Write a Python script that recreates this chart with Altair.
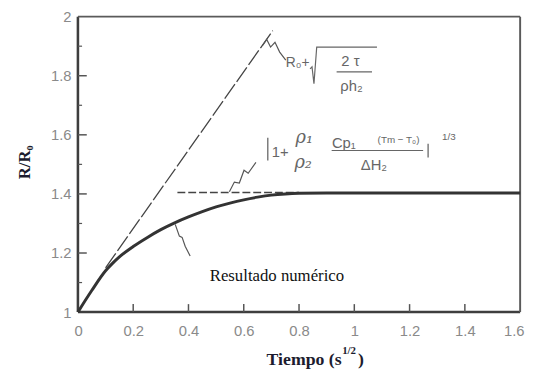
import altair as alt
import pandas as pd

# ---- data ----
curve_x = [0, 0.05, 0.1, 0.125, 0.15, 0.2, 0.25, 0.3, 0.35, 0.4, 0.45, 0.5, 0.55, 0.6,
           0.65, 0.7, 0.75, 0.8, 0.9, 1.0, 1.2, 1.4, 1.6]
curve_y = [1.0, 1.073, 1.14, 1.165, 1.187, 1.222, 1.252, 1.279, 1.302, 1.322, 1.34, 1.356,
           1.369, 1.38, 1.389, 1.396, 1.400, 1.402, 1.403, 1.403, 1.403, 1.403, 1.403]

slope_x = [0.1, 0.705]
slope_y = [1.15, 1.953]

asym_x = [0.36, 0.80]
asym_y = [1.405, 1.405]

x_ticks = [0, 0.2, 0.4, 0.6, 0.8, 1.0, 1.2, 1.4, 1.6]
y_ticks = [1, 1.2, 1.4, 1.6, 1.8, 2]
y_minor = [1.1, 1.3, 1.5, 1.7, 1.9]

# plot frame edges as thin filled bands: x, x2, y, y2
frame_x1 = [-0.0046, 0.0, 0.0, 1.5965]
frame_x2 = [0.0046, 1.6, 1.6, 1.6035]
frame_y1 = [1.0, 0.9957, 1.9967, 1.0]
frame_y2 = [2.0, 1.0043, 2.0033, 2.0]
frame_col = ["a", "a", "b", "b"]

# annotation squiggles (leader marks)
arrow1_x = [0.669, 0.683, 0.697, 0.713, 0.730, 0.752]
arrow1_y = [1.903, 1.923, 1.897, 1.913, 1.880, 1.853]
arrow2_x = [0.548, 0.566, 0.584, 0.601, 0.616, 0.644]
arrow2_y = [1.407, 1.440, 1.437, 1.480, 1.470, 1.507]
arrow3_x = [0.352, 0.367, 0.377, 0.388, 0.406]
arrow3_y = [1.297, 1.257, 1.253, 1.223, 1.190]

# formula strokes
sqrt_x = [0.840, 0.847, 0.854, 0.864, 1.082]
sqrt_y = [1.823, 1.830, 1.773, 1.897, 1.897]

xscale = alt.Scale(domain=[0, 1.6], nice=False, zero=False)
yscale = alt.Scale(domain=[1, 2], nice=False, zero=False)

xaxis = alt.Axis(values=x_ticks, format="~g", ticks=False, grid=False, domain=False,
                 labelFont="Liberation Sans", labelFontSize=15, labelColor="#8a8a8a",
                 labelPadding=12, labelFlush=True, labelFlushOffset=4,
                 labelOverlap=False, title="")
yaxis = alt.Axis(values=y_ticks, format="~g", ticks=False, grid=False, domain=False,
                 labelFont="Liberation Sans", labelFontSize=15, labelColor="#8a8a8a",
                 labelPadding=7, labelOverlap=False, title="")

X = alt.X("x:Q", scale=xscale, axis=xaxis)
Y = alt.Y("y:Q", scale=yscale, axis=yaxis)


def line_layer(xs, ys, **kw):
    df = pd.DataFrame({"x": xs, "y": ys, "o": list(range(len(xs)))})
    return alt.Chart(df).mark_line(**kw).encode(x=X, y=Y, order="o:Q")


def text_layer(items, **kw):
    df = pd.DataFrame(items, columns=["x", "y", "t"])
    return alt.Chart(df).mark_text(**kw).encode(x=X, y=Y, text="t:N")


def seg_layer(x1, y1, x2, y2, **kw):
    df = pd.DataFrame({"x": [x1], "y": [y1], "x2": [x2], "y2": [y2]})
    return alt.Chart(df).mark_rule(**kw).encode(x=X, y=Y, x2="x2:Q", y2="y2:Q")


frame_df = pd.DataFrame({"x": frame_x1, "x2": frame_x2, "y": frame_y1, "y2": frame_y2,
                         "c": frame_col})
frame = alt.Chart(frame_df).mark_rect(strokeWidth=0).encode(
    x=X, x2="x2:Q", y=Y, y2="y2:Q",
    color=alt.Color("c:N", scale=alt.Scale(domain=["a", "b"], range=["#3e3e3e", "#5a5a5a"]),
                    legend=None))

# inward ticks
xt_df = pd.DataFrame({"x": x_ticks[1:-1], "y": [1.0] * 7, "y2": [1.027] * 7})
x_tick_layer = alt.Chart(xt_df).mark_rule(color="#555", strokeWidth=1.5).encode(
    x=X, y=Y, y2="y2:Q")
yt_df = pd.DataFrame({"x": [0.0] * 4, "x2": [0.032] * 4, "y": y_ticks[1:-1]})
y_tick_layer = alt.Chart(yt_df).mark_rule(color="#555", strokeWidth=1.5).encode(
    x=X, x2="x2:Q", y=Y)
ym_df = pd.DataFrame({"x": [0.0] * 5, "x2": [0.015] * 5, "y": y_minor})
y_minor_layer = alt.Chart(ym_df).mark_rule(color="#555", strokeWidth=1.2).encode(
    x=X, x2="x2:Q", y=Y)

curve = line_layer(curve_x, curve_y, color="#333", strokeWidth=3, interpolate="monotone")
slope = line_layer(slope_x, slope_y, color="#444", strokeWidth=1.3, strokeDash=[18, 3])
asym = line_layer(asym_x, asym_y, color="#444", strokeWidth=1.5, strokeDash=[8, 3])

arrows = [line_layer(a, b, color="#555", strokeWidth=1.2)
          for a, b in [(arrow1_x, arrow1_y), (arrow2_x, arrow2_y), (arrow3_x, arrow3_y)]]

sqrt_line = line_layer(sqrt_x, sqrt_y, color="#666", strokeWidth=1.2)

f_color = "#666"
formula1 = text_layer([(0.795, 1.842, "R₀+")],
                      font="Liberation Sans", fontSize=14, color=f_color,
                      align="center", baseline="middle")
formula1b = text_layer([(0.986, 1.850, "2 τ"), (0.990, 1.765, "ρh₂")],
                       font="Liberation Sans", fontSize=15, color=f_color,
                       align="center", baseline="middle")
frac1 = seg_layer(0.936, 1.813, 1.064, 1.813, color=f_color, strokeWidth=1.2)

formula2a = text_layer([(0.732, 1.54, "1+")],
                       font="Liberation Sans", fontSize=15, color=f_color,
                       align="center", baseline="middle")
formula2rho = text_layer([(0.819, 1.59, "ρ₁"), (0.815, 1.505, "ρ₂")],
                         font="DejaVu Serif", fontSize=18, fontStyle="italic",
                         color=f_color, align="center", baseline="middle")
formula2b = text_layer([(0.962, 1.573, "Cp₁"), (1.071, 1.497, "ΔH₂")],
                       font="Liberation Sans", fontSize=15, color=f_color,
                       align="center", baseline="middle")
formula2c = text_layer([(1.160, 1.582, "(Tm − T₀)"), (1.342, 1.592, "1/3")],
                       font="Liberation Sans", fontSize=10, color=f_color,
                       align="center", baseline="middle")
bar1 = seg_layer(0.687, 1.590, 0.687, 1.513, color=f_color, strokeWidth=1.3)
bar2 = seg_layer(1.267, 1.570, 1.267, 1.523, color=f_color, strokeWidth=1.3)
frac2 = seg_layer(0.918, 1.547, 1.249, 1.547, color=f_color, strokeWidth=1.2)

label_num = text_layer([(0.72, 1.123, "Resultado numérico")],
                       font="Liberation Serif", fontSize=17, color="#111",
                       align="center", baseline="middle")

ytitle = text_layer([(-0.19, 1.507, "R/R₀")],
                    font="Liberation Serif", fontSize=17, fontWeight="bold",
                    color="#1c1c2e", align="center", baseline="middle", angle=270)
xtitle_main = text_layer([(0.954, 0.838, "Tiempo (s")],
                         font="Liberation Serif", fontSize=18, fontWeight="bold",
                         color="#1c1c2e", align="right", baseline="middle")
xtitle_sup = text_layer([(0.956, 0.868, "1/2")],
                        font="Liberation Serif", fontSize=11, fontWeight="bold",
                        color="#1c1c2e", align="left", baseline="middle")
xtitle_end = text_layer([(1.013, 0.838, ")")],
                        font="Liberation Serif", fontSize=18, fontWeight="bold",
                        color="#1c1c2e", align="left", baseline="middle")

chart = alt.layer(
    frame, x_tick_layer, y_tick_layer, y_minor_layer,
    slope, asym, curve, *arrows, sqrt_line,
    formula1, formula1b, frac1,
    formula2a, formula2rho, formula2b, formula2c, bar1, bar2, frac2,
    label_num, ytitle, xtitle_main, xtitle_sup, xtitle_end,
).properties(
    width=449, height=300,
    padding={"left": 71, "top": 6, "right": 9, "bottom": 55},
    autosize=alt.AutoSizeParams(type="none"),
    background="white",
).configure_view(strokeWidth=0)

chart.save("out.html", embed_options={"renderer": "svg", "actions": False})
